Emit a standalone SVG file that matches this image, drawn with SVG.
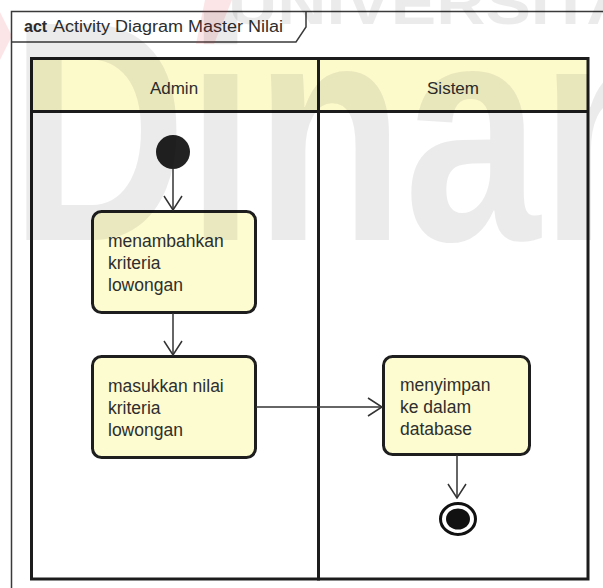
<svg xmlns="http://www.w3.org/2000/svg" width="603" height="588" viewBox="0 0 603 588">
<defs>
<style>
.t{font-family:"Liberation Sans",Arial,sans-serif;fill:#2e2e2e;}
.lbl{font-size:17.5px;}
.hdr{font-size:17px;text-anchor:middle;}
.lane{fill:none;stroke:#1c1c1c;stroke-width:3;}
.node{fill:#fdfcd0;stroke:#1e1e1e;stroke-width:3;}
.conn{fill:none;stroke:#333;stroke-width:1.5;}
.frame{fill:none;stroke:#3a3a3a;stroke-width:1.5;}
.wm{font-family:"Liberation Sans",Arial,sans-serif;font-weight:bold;fill:#000;fill-opacity:0.08;}
</style>
<marker id="arr" viewBox="0 0 16 20" refX="15" refY="10" markerWidth="16" markerHeight="20" orient="auto" markerUnits="userSpaceOnUse">
<path d="M1,1 L15,10 L1,19" fill="none" stroke="#333" stroke-width="1.5"/>
</marker>
</defs>
<rect x="0" y="0" width="603" height="588" fill="#fff"/>
<g id="frame">
<path class="frame" d="M11.5,600 L11.5,11.5 L610,11.5"/>
<path class="frame" d="M11.5,42 L296,42 L306,27 L306,11.5"/>
<text class="t" x="24" y="32" font-size="16" font-weight="bold">act</text>
<text class="t" x="53" y="32" font-size="16" textLength="230" lengthAdjust="spacingAndGlyphs">Activity Diagram Master Nilai</text>
</g>
<g id="lanes">
<g id="lane-admin">
<rect x="31.5" y="58.5" width="287" height="53" fill="#fcfacb"/>
<rect class="lane" x="31.5" y="58.5" width="287" height="520.5"/>
<line class="lane" x1="31.5" y1="111.5" x2="318.5" y2="111.5"/>
<text class="t hdr" x="174" y="94">Admin</text>
</g>
<g id="lane-sistem">
<rect x="318.5" y="58.5" width="269.5" height="53" fill="#fcfacb"/>
<rect class="lane" x="318.5" y="58.5" width="269.5" height="520.5"/>
<line class="lane" x1="318.5" y1="111.5" x2="588" y2="111.5"/>
<text class="t hdr" x="453" y="94">Sistem</text>
</g>
</g>
<g id="start">
<circle cx="173" cy="152" r="17" fill="#222"/>
</g>
<g id="act1">
<rect class="node" x="92.5" y="211.5" width="163" height="101" rx="9"/>
<text class="t lbl" x="108" y="247">menambahkan</text>
<text class="t lbl" x="108" y="269">kriteria</text>
<text class="t lbl" x="108" y="291">lowongan</text>
</g>
<g id="act2">
<rect class="node" x="92.5" y="356.5" width="163" height="101" rx="9"/>
<text class="t lbl" x="108" y="392">masukkan nilai</text>
<text class="t lbl" x="108" y="414">kriteria</text>
<text class="t lbl" x="108" y="436">lowongan</text>
</g>
<g id="act3">
<rect class="node" x="383.5" y="356.5" width="146" height="98" rx="9"/>
<text class="t lbl" x="400" y="391">menyimpan</text>
<text class="t lbl" x="400" y="413">ke dalam</text>
<text class="t lbl" x="400" y="435">database</text>
</g>
<g id="end">
<ellipse cx="458" cy="519" rx="17.5" ry="15.5" fill="#fff" stroke="#111" stroke-width="3"/>
<ellipse cx="458" cy="519" rx="12" ry="10.5" fill="#111"/>
</g>
<g id="connectors">
<path class="conn" d="M173,169 L173,210" marker-end="url(#arr)"/>
<path class="conn" d="M173,313 L173,355" marker-end="url(#arr)"/>
<path class="conn" d="M256,407 L382,407" marker-end="url(#arr)"/>
<path class="conn" d="M457,455 L457,498" marker-end="url(#arr)"/>
</g>
<g id="watermark" pointer-events="none">
<polygon points="0,12 12,36 0,60" fill="#e8283a" fill-opacity="0.12"/>
<polygon points="205,0 232,0 214,44 196,44" fill="#e8283a" fill-opacity="0.12"/>
<text class="wm" x="228" y="24" font-size="60" textLength="453" lengthAdjust="spacingAndGlyphs">UNIVERSITAS</text>
<text class="wm" x="10" y="240" font-size="314" textLength="1088" lengthAdjust="spacingAndGlyphs">Dinamika</text>
</g>
</svg>
